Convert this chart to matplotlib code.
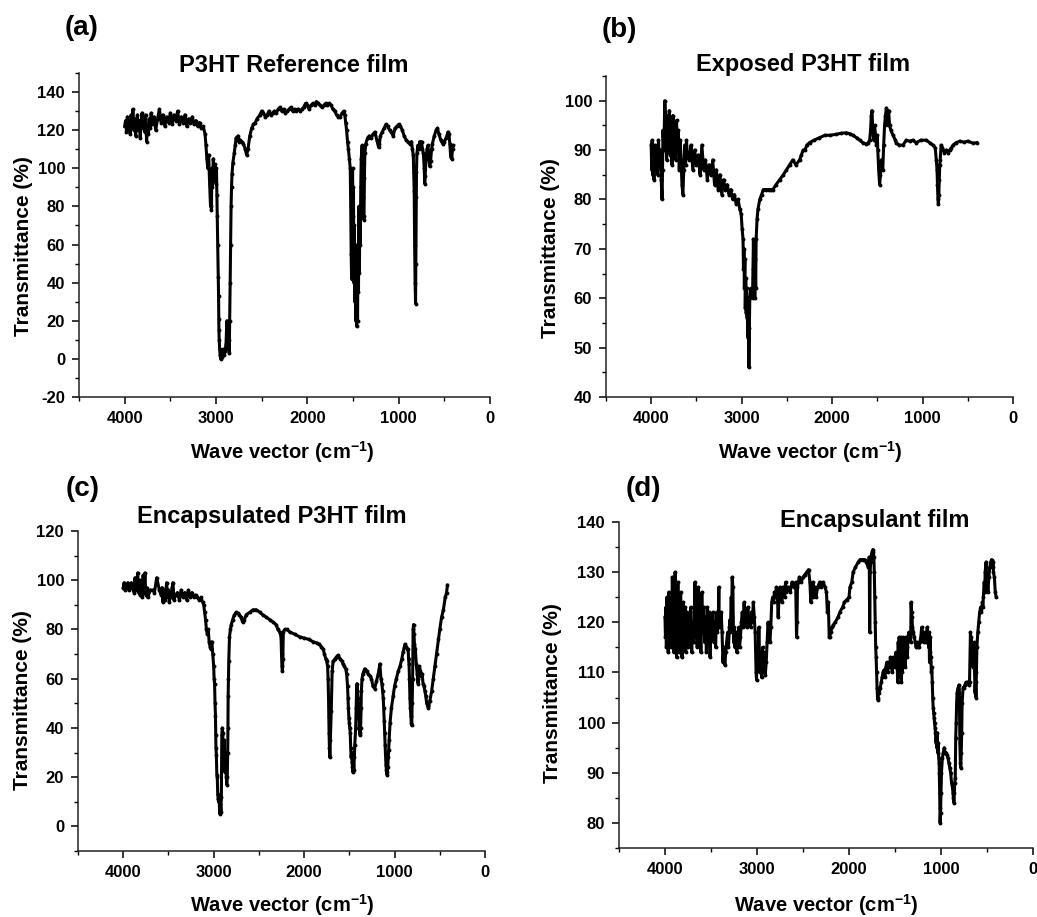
import matplotlib
matplotlib.use("Agg")
import matplotlib.pyplot as plt
from matplotlib.ticker import MultipleLocator

# ---------------- data ----------------
a_wn = [4000,3990,3980,3970,3960,3950,3940,3930,3920,3910,3900,3890,3880,3870,3860,3850,3840,3830,3820,3810,
        3800,3790,3780,3770,3760,3750,3740,3730,3720,3710,3700,3680,3660,3640,3620,3600,3580,3560,3540,3520,
        3500,3480,3460,3440,3420,3400,3380,3360,3340,3320,3300,3280,3260,3240,3220,3200,3180,3160,3140,3120,
        3110,3100,3090,3080,3070,3060,3055,3050,3045,3040,3030,3020,3010,3000,2995,2990,2985,2980,2975,2972,
        2970,2968,2965,2960,2955,2950,2940,2930,2920,2910,2900,2890,2885,2880,2875,2870,2865,2860,2855,2850,
        2845,2840,2835,2830,2825,2815,2800,2790,2780,2770,2760,2750,2740,2720,2700,2680,2665,2650,2630,2610,
        2590,2570,2550,2520,2500,2480,2460,2440,2420,2400,2380,2360,2340,2320,2300,2280,2260,2240,2220,2200,
        2180,2160,2140,2120,2100,2080,2060,2040,2020,2000,1980,1960,1940,1920,1900,1880,1860,1840,1820,1800,
        1780,1760,1740,1720,1700,1680,1660,1640,1620,1600,1590,1580,1570,1560,1550,1540,1530,1525,1520,1515,
        1510,1505,1500,1495,1490,1485,1480,1475,1470,1465,1460,1455,1450,1445,1440,1435,1430,1425,1420,1415,
        1410,1400,1395,1390,1385,1380,1375,1370,1360,1340,1320,1300,1280,1260,1240,1220,1210,1200,1180,1160,
        1140,1120,1100,1080,1060,1040,1020,1000,980,960,940,920,900,880,860,850,840,835,830,825,
        820,815,812,808,805,800,790,780,770,760,750,740,730,720,715,710,700,690,680,670,
        660,650,640,630,610,590,575,560,540,520,500,480,460,450,440,430,420,410,400]
a_T = [122,125,119,127,121,124,118,128,122,131,120,126,117,124,128,120,125,116,123,129,
       121,126,119,128,114,122,118,126,121,129,123,127,120,126,131,124,128,122,127,124,
       129,123,128,125,130,123,127,124,128,122,126,124,127,123,125,122,124,121,122,118,
       112,105,100,107,92,80,95,78,100,90,105,98,102,92,100,86,75,60,43,33,
       21,15,10,5,2,0,3,1,5,2,4,8,15,20,12,18,5,10,3,20,
       40,60,80,90,97,103,108,112,116,115,117,114,115,114,113,110,107,110,117,121,
       123,124,126,128,130,129,127,128,130,128,129,130,129,131,132,130,131,129,130,131,
       132,130,131,130,131,130,131,132,134,133,131,133,134,133,135,134,133,132,133,134,
       133,134,133,131,130,128,127,127,129,130,128,124,120,114,110,105,100,80,55,42,
       60,100,75,90,40,70,30,60,20,50,17,40,20,60,35,80,45,78,60,90,
       105,112,100,85,75,73,95,108,113,116,117,116,118,119,115,111,113,117,119,121,
       123,122,120,119,117,121,122,123,122,120,117,115,114,113,114,110,107,98,88,60,
       40,29,50,85,98,108,112,110,114,111,114,110,108,100,92,96,105,110,112,106,
       101,104,110,113,117,120,121,118,115,113,114,116,119,118,113,106,105,110,112]

b_wn = [4000,3995,3990,3985,3980,3970,3960,3950,3940,3930,3920,3910,3900,3890,3880,3875,3870,3860,3850,3840,
        3830,3820,3810,3800,3790,3780,3770,3760,3750,3740,3730,3720,3710,3700,3690,3680,3670,3660,3650,3640,
        3630,3620,3610,3600,3580,3560,3540,3520,3500,3480,3460,3440,3420,3400,3380,3360,3340,3320,3300,3280,
        3260,3240,3220,3200,3180,3160,3140,3120,3100,3080,3060,3040,3020,3005,2995,2985,2980,2975,2970,2965,
        2960,2955,2950,2945,2940,2935,2930,2925,2920,2915,2910,2900,2890,2880,2875,2870,2865,2860,2855,2850,
        2845,2840,2830,2820,2800,2780,2760,2730,2700,2680,2655,2620,2580,2540,2505,2470,2435,2400,2360,2340,
        2320,2300,2280,2250,2200,2140,2080,2020,1955,1900,1845,1800,1770,1730,1695,1660,1620,1600,1585,1575,
        1567,1560,1550,1540,1530,1520,1510,1500,1495,1485,1475,1465,1455,1440,1430,1420,1410,1400,1390,1382,
        1375,1365,1350,1327,1300,1290,1260,1217,1180,1143,1110,1070,1020,960,920,885,860,848,840,835,
        830,825,820,815,810,805,795,780,760,737,720,700,680,663,630,590,540,500,442,400]
b_T = [91,86,92,85,90,84,91,86,89,85,92,88,90,84,80,86,94,90,100,96,
       88,97,90,98,89,96,87,97,91,95,88,96,90,94,86,92,88,83,81,86,
       91,87,92,89,88,91,86,90,87,89,85,91,86,88,84,87,85,88,83,86,
       82,85,81,84,82,83,81,82,80,81,79,80,78,77,74,72,66,70,62,68,
       58,64,57,62,56,60,52,58,46,54,60,62,61,60,66,72,64,70,60,68,
       62,72,76,78,80,81,82,82,82,82,82,83,84,85,86,87,88,87,88,89,
       90,90,91,91.5,92,92.5,93,93,93.2,93.4,93.5,93.3,93,92.5,92,91.5,91.2,91.5,92,94,
       97,98,94,92,95,93,91,93,90,86,83,85,88,86,91,95,97,98.5,97,95,
       98,95,94,93,92,91.5,91,91,92,91.8,92,91.5,92,92,91.5,91,90.5,88,86,83,
       80,79,81,84,87,88,91,90.5,89.5,90,89.5,90,90.5,91,91.5,91.8,91.6,91.8,91.4,91.5]

c_wn = [4000,3990,3980,3970,3960,3950,3940,3930,3920,3910,3900,3890,3880,3870,3860,3850,3840,3830,3820,3810,
        3800,3790,3780,3770,3760,3750,3740,3730,3700,3670,3655,3630,3600,3580,3570,3560,3550,3540,3530,3520,
        3510,3500,3490,3480,3470,3460,3450,3440,3420,3400,3380,3360,3340,3320,3300,3280,3260,3240,3220,3200,
        3180,3160,3140,3120,3110,3100,3090,3080,3070,3060,3050,3040,3030,3020,3010,3000,2995,2990,2985,2980,
        2977,2975,2970,2965,2960,2955,2950,2945,2940,2935,2930,2925,2920,2915,2910,2905,2900,2895,2890,2885,
        2880,2875,2870,2865,2860,2855,2850,2845,2842,2840,2836,2833,2825,2815,2805,2790,2770,2750,2730,2715,
        2700,2680,2660,2640,2600,2565,2530,2490,2460,2420,2380,2345,2310,2290,2270,2255,2250,2245,2240,2235,
        2230,2215,2190,2160,2100,2050,2000,1950,1900,1860,1830,1810,1790,1775,1760,1750,1740,1735,1730,1727,
        1724,1720,1715,1710,1700,1690,1680,1660,1640,1625,1600,1580,1570,1555,1540,1530,1520,1515,1510,1505,
        1500,1495,1490,1485,1480,1475,1470,1465,1460,1455,1450,1445,1440,1430,1425,1420,1415,1410,1405,1400,
        1395,1390,1385,1380,1375,1370,1367,1360,1350,1340,1330,1310,1293,1270,1255,1240,1220,1200,1180,1170,
        1163,1150,1140,1133,1125,1120,1115,1110,1105,1100,1095,1090,1085,1080,1075,1070,1065,1060,1050,1035,
        1015,1000,980,960,940,920,905,885,870,860,850,845,840,835,830,825,820,815,810,805,
        800,795,790,785,780,770,760,750,745,740,735,725,715,705,695,685,675,665,655,645,
        635,625,610,590,572,555,535,515,500,480,460,440,425,415]
c_T = [97,99,96,98,97,99,96,98,97,99,97,98,95,101,96,99,103,95,100,94,
       98,93,102,96,103,94,97,93,96,96,95,101,96,94,97,91,96,92,95,99,
       93,96,91,95,93,97,99,92,94,95,92,96,93,95,92,96,93,95,93,94,
       93,92,93,91,90,87,84,80,78,80,75,73,72,75,70,65,60,58,50,45,
       37,32,29,21,20,13,11,10,12,7,5,9,6,12,37,40,38,30,25,35,
       27,22,26,30,20,17,20,30,40,53,60,67,77,80,82,84,86,87,86.5,86,
       85,83,84,86,87,88,88,87,86,85,84,83,82,80,79,77,70,65,63,68,
       79,80,80,79,78,77,76.5,76,75,74.5,74,73,72,70,68,67,65,60,52,45,
       38,32,28,35,47,63,67,68,69,69.5,68,67,66,65,64,62,57,52,48,44,
       42,40,38,32,28,30,26,24,22,25,23,28,33,40,48,55,58,55,52,47,
       45,41,38,37,40,48,55,60,62,63,64,63,62,61,60,57,56,59,62,64,
       66,60,58,55,52,48,43,38,33,29,25,23,21,22,24,28,31,35,42,48,
       53,57,60,63,65,68,71,74,73,72,72,68,66,60,52,48,45,42,41,50,
       60,80,82,78,74,72,66,62,60,58,64,65,63,61,62,58,57,55,53,50,
       49,48,51,55,60,65,70,76,80,85,88,93,95,98]

d_wn = [4000,3995,3990,3985,3980,3975,3970,3965,3960,3955,3950,3945,3940,3935,3930,3925,3920,3915,3910,3905,
        3900,3895,3890,3885,3880,3875,3870,3865,3860,3855,3850,3845,3840,3835,3830,3825,3820,3815,3810,3805,
        3800,3795,3790,3785,3780,3775,3770,3765,3760,3755,3750,3745,3740,3730,3720,3710,3700,3690,3680,3675,
        3670,3660,3650,3640,3630,3620,3610,3600,3590,3580,3570,3560,3550,3540,3530,3520,3510,3500,3490,3480,
        3470,3460,3450,3440,3430,3420,3415,3410,3400,3390,3380,3370,3360,3350,3340,3330,3320,3310,3300,3295,
        3290,3280,3275,3270,3262,3255,3250,3240,3230,3220,3210,3200,3190,3180,3170,3160,3150,3140,3130,3120,
        3110,3100,3090,3080,3070,3060,3050,3040,3030,3020,3010,3005,3000,2995,2990,2985,2980,2970,2960,2950,
        2940,2930,2920,2910,2900,2890,2880,2870,2860,2850,2840,2830,2820,2810,2800,2790,2780,2770,2760,2750,
        2740,2730,2720,2710,2700,2690,2680,2660,2640,2620,2600,2590,2580,2570,2565,2560,2550,2540,2520,2500,
        2480,2460,2440,2425,2415,2405,2395,2390,2380,2370,2360,2340,2320,2300,2280,2260,2245,2235,2225,2215,
        2210,2200,2185,2170,2150,2120,2100,2070,2050,2025,2000,1990,1970,1955,1930,1900,1880,1850,1830,1810,
        1790,1780,1775,1770,1765,1760,1750,1740,1735,1730,1725,1720,1715,1710,1705,1700,1695,1690,1685,1680,
        1670,1660,1650,1640,1630,1620,1610,1600,1590,1580,1570,1560,1550,1540,1530,1520,1510,1500,1490,1480,
        1470,1465,1460,1455,1450,1445,1440,1435,1430,1425,1420,1415,1410,1405,1400,1395,1390,1385,1380,1375,
        1370,1365,1360,1350,1340,1330,1325,1320,1315,1310,1300,1290,1280,1270,1260,1250,1240,1230,1220,1210,
        1200,1190,1180,1170,1160,1150,1140,1135,1130,1125,1120,1115,1110,1105,1100,1095,1090,1085,1080,1075,
        1070,1065,1060,1055,1050,1045,1040,1035,1030,1025,1020,1018,1016,1014,1012,1010,1005,1000,995,985,
        975,965,955,945,935,925,915,905,895,885,875,870,865,860,855,850,845,840,835,830,
        825,820,812,805,800,795,790,785,780,775,770,760,750,740,730,720,710,700,690,680,
        675,670,665,660,655,650,645,640,635,630,625,620,615,610,600,590,580,570,560,550,
        545,540,530,525,520,515,510,505,500,495,490,480,470,460,450,440,435,430,420,410,400]
d_T = [121,117,123,115,125,118,122,114,126,119,124,116,121,115,125,118,129,116,123,114,
       127,120,130,117,124,113,122,116,128,119,123,114,121,118,126,116,122,113,120,117,
       124,115,121,118,123,114,120,116,122,117,121,115,119,116,123,114,120,116,122,128,
       117,124,115,127,119,122,114,126,118,123,116,121,114,123,117,122,113,121,118,122,
       116,120,115,122,118,121,127,119,120,122,118,112,115,111.5,114,116,118,115,119,120.5,
       118,125,121,129,127,116,119,115,118,114,116,119,115,117,120,122,119,124,120,122,
       119,123,120,121,119,122,120,124,121,118,110,108.5,112,115,111,114,119,110,113,109,
       115,110,114,109.5,112,116,120,118,116,119,124,125,124,126,125,127,126,121,125,127,
       126,124,127,126,125,128,126,127,126,128,127,127,128,117,120,127,128,129,128,129,
       129.5,130,130.5,128,124,127,125,128,126,127,125,127,128,127,128,127,126,122,124,117,
       117,118,119,119.5,120,121,122,123,124,124.5,125,127,128,130,131,132,132.5,132.5,132.5,132,
       131,133,118,130,132,133,134,134.5,134,133,130,125,120,115,113,110,107,105,104.5,106,
       106,107,108,109,110,110.5,109,111,112,110,112,111,113,112,110,113,112,111,114,113,
       108,116,110,117,109,115,111,117,108,114,110,117,112,116,113,115,111,117,114,116,
       115,113,117,118,117,116,124,122,121,119,118,117,116,115,116,115,115,116,117,119,
       118,116,117,118,116,119,117,115,118,112,117,114,113,110,111,108,105,103,102,101,
       100,99,98,96,97,95,98,94,96,93,92,90,88,86,83,80,82,86,90,93,
       94,95,94,94,93.5,93,92,91,90,88,87,86,85,84,86,88,89,97,100,104,
       106,106.5,107,107.5,106,96,92,91,94,98,104,107,107,107.5,108,108,108,107.5,108,118,
       116,117,114,115,112,111,116,113,110,106,108,105,110,115,118,120,122,123,122,124,
       123,125,128,126,130,131,132,129,128,127,126,129,131,132,132.5,131,132,130,129,126,125]

panels = [
    dict(wn=a_wn, T=a_T, ylim=(-20, 150), yticks=(-20, 141, 20), ymin=10, label="(a)",
         title="P3HT Reference film"),
    dict(wn=b_wn, T=b_T, ylim=(40, 105), yticks=(40, 101, 10), ymin=5, label="(b)",
         title="Exposed P3HT film"),
    dict(wn=c_wn, T=c_T, ylim=(-10, 120), yticks=(0, 121, 20), ymin=10, label="(c)",
         title="Encapsulated P3HT film"),
    dict(wn=d_wn, T=d_T, ylim=(75, 140), yticks=(80, 141, 10), ymin=5, label="(d)",
         title="Encapsulant film"),
]

# ---------------- layout ----------------
W, H = 1037, 917
plt.rcParams['font.family'] = ['Liberation Sans', 'DejaVu Sans']
plt.rcParams['font.weight'] = 'bold'
plt.rcParams['axes.unicode_minus'] = False
plt.rcParams['mathtext.fontset'] = 'custom'
plt.rcParams['mathtext.rm'] = 'Liberation Sans:bold'
plt.rcParams['mathtext.bf'] = 'Liberation Sans:bold'
plt.rcParams['mathtext.default'] = 'bf'
fig = plt.figure(figsize=(W / 100, H / 100), dpi=100)

def fx(px):
    return px / W

def fy(py):
    return 1 - py / H

# axes boxes in pixels: left, right, top, bottom
boxes = [(79, 490, 73, 397), (606, 1013, 76, 397), (78, 485, 531, 851), (619, 1033, 522, 848)]
# text positions in pixels
lab_pos = [(65, 28), (602, 30), (66, 489), (626, 489)]
title_pos = [(294, 65), (803, 65), (272, 517), (875, 520)]
ylab_pos = [(24, 246), (550, 248), (23, 700), (552, 693)]
xlab_pos = [(282, 452), (810, 452), (282, 905), (826, 905)]

for p, (l, r, t, b), lp, tp, ylp, xlp in zip(panels, boxes, lab_pos, title_pos, ylab_pos, xlab_pos):
    ax = fig.add_axes([fx(l), fy(b), fx(r) - fx(l), fy(t) - fy(b)])
    ax.plot(p["wn"], p["T"], color="black", lw=2.2, marker="o", ms=2.8,
            markeredgewidth=0, solid_joinstyle="round")
    ax.set_xlim(4500, 0)
    ax.set_ylim(*p["ylim"])
    ax.set_xticks([4000, 3000, 2000, 1000, 0])
    ax.xaxis.set_minor_locator(MultipleLocator(500))
    y0, y1, ys = p["yticks"]
    ax.set_yticks(list(range(y0, y1, ys)))
    ax.yaxis.set_minor_locator(MultipleLocator(p["ymin"]))
    for s in ("top", "right"):
        ax.spines[s].set_visible(False)
    for s in ("left", "bottom"):
        ax.spines[s].set_linewidth(1.1)
        ax.spines[s].set_color("#222222")
    ax.tick_params(which="major", direction="out", length=5, width=1.1, labelsize=12, pad=5)
    ax.tick_params(which="minor", direction="out", length=3, width=1.0)
    for lbl in ax.get_xticklabels() + ax.get_yticklabels():
        lbl.set_fontweight("bold")
    fig.text(fx(lp[0]), fy(lp[1]), p["label"], fontsize=20, fontweight="bold",
             ha="left", va="center")
    fig.text(fx(tp[0]), fy(tp[1]), p["title"], fontsize=17, fontweight="bold",
             ha="center", va="center")
    fig.text(fx(ylp[0]), fy(ylp[1]), "Transmittance (%)", fontsize=15, fontweight="bold",
             ha="center", va="center", rotation=90)
    fig.text(fx(xlp[0]), fy(xlp[1]), r"Wave vector (cm$^{-1}$)", fontsize=14.5,
             fontweight="bold", ha="center", va="center")

fig.savefig("out.png", dpi=100)
